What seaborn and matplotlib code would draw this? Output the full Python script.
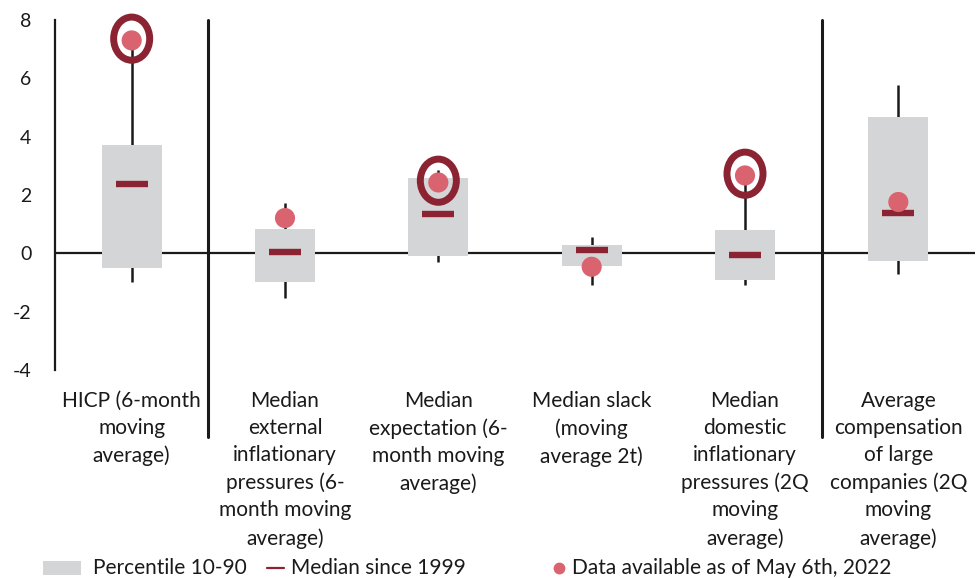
import matplotlib
matplotlib.use("Agg")
import matplotlib.pyplot as plt
from matplotlib.patches import Ellipse, Rectangle
from matplotlib.lines import Line2D
import numpy as np
import pandas as pd
import seaborn as sns

categories = [
    "HICP (6-month\nmoving\naverage)",
    "Median\nexternal\ninflationary\npressures (6-\nmonth moving\naverage)",
    "Median\nexpectation (6-\nmonth moving\naverage)",
    "Median slack\n(moving\naverage 2t)",
    "Median\ndomestic\ninflationary\npressures (2Q\nmoving\naverage)",
    "Average\ncompensation\nof large\ncompanies (2Q\nmoving\naverage)",
]
p10 = [-0.50, -0.98, -0.09, -0.44, -0.92, -0.26]
p90 = [3.72, 0.83, 2.58, 0.28, 0.80, 4.69]
low = [-0.97, -1.53, -0.30, -1.09, -1.09, -0.71]
high = [7.00, 1.72, 2.86, 0.56, 2.40, 5.78]
median = [2.39, 0.05, 1.35, 0.11, -0.07, 1.37]
latest = [7.30, 1.21, 2.43, -0.46, 2.67, 1.76]
highlighted = [True, False, True, False, True, False]
yticks = [-4, -2, 0, 2, 4, 6, 8]

GREY = "#d4d5d7"
DARKRED = "#8b2332"
PINK = "#d9636f"
INK = "#1a1a1a"

sns.set_theme(style="white")
plt.rcParams["font.family"] = ["Lato", "DejaVu Sans"]

df = pd.DataFrame({
    "pos": np.arange(len(categories)),
    "p10": p10, "p90": p90, "low": low, "high": high,
    "median": median, "latest": latest, "hl": highlighted,
})

fig = plt.figure(figsize=(9.77, 5.78), dpi=100)
ax = fig.add_axes([55 / 977, 208 / 578, 920 / 977, 350 / 578])

# zero line behind everything
ax.axhline(0, color=INK, lw=1.6, zorder=1)

# whiskers (min to max)
ax.vlines(df["pos"], df["low"], df["high"], color=INK, lw=1.8, zorder=2)

# 10-90 percentile boxes
ax.bar(df["pos"], df["p90"] - df["p10"], bottom=df["p10"], width=0.39,
       color=GREY, edgecolor="none", zorder=3)

# medians since 1999
ax.plot(df["pos"], df["median"], ls="none", marker="_", ms=23, mew=4.6,
        color=DARKRED, zorder=4)

# latest data points
sns.scatterplot(data=df, x="pos", y="latest", ax=ax, s=210, color=PINK,
                edgecolor="none", linewidth=0, zorder=5, legend=False)

# rings around notable readings
for _, r in df[df["hl"]].iterrows():
    ax.add_patch(Ellipse((r["pos"], r["latest"] + 0.06), width=0.235,
                         height=1.48, fill=False, edgecolor=DARKRED,
                         lw=5.0, zorder=6, clip_on=False))

# group separators extending into the label area
for xs in (0.5, 4.5):
    ax.add_line(Line2D([xs, xs], [8, -6.3], color=INK, lw=2.2,
                       clip_on=False, zorder=1))

ax.set_xlim(-0.5, 5.5)
ax.set_ylim(-4, 8)
ax.set_yticks(yticks)
ax.set_yticklabels([str(v) for v in yticks])
ax.set_xticks(df["pos"])
ax.set_xticklabels(categories, linespacing=1.45)
ax.tick_params(axis="x", length=0, pad=15, labelsize=15, colors=INK)
ax.tick_params(axis="y", length=0, pad=17, labelsize=14, colors=INK)
ax.set_xlabel("")
ax.set_ylabel("")
for side in ("top", "right", "bottom"):
    ax.spines[side].set_visible(False)
ax.spines["left"].set_color(INK)
ax.spines["left"].set_linewidth(1.6)

# legend row along the bottom
fy = 1 - 568 / 578
fig.add_artist(Rectangle((43 / 977, fy - 7 / 578), 38 / 977, 14 / 578,
                         transform=fig.transFigure, facecolor=GREY,
                         edgecolor="none"))
fig.text(93 / 977, fy, "Percentile 10-90", fontsize=15, color=INK,
         va="center", ha="left")
fig.add_artist(Line2D([267 / 977, 284 / 977], [fy, fy],
                      transform=fig.transFigure, color=DARKRED, lw=1.6))
fig.text(291 / 977, fy, "Median since 1999", fontsize=15, color=INK,
         va="center", ha="left")
fig.add_artist(Line2D([559 / 977], [fy], transform=fig.transFigure,
                      marker="o", ms=8.5, color=PINK, mec="none", ls="none"))
fig.text(572 / 977, fy, "Data available as of May 6th, 2022", fontsize=15,
         color=INK, va="center", ha="left")

fig.savefig("out.png", dpi=100)
